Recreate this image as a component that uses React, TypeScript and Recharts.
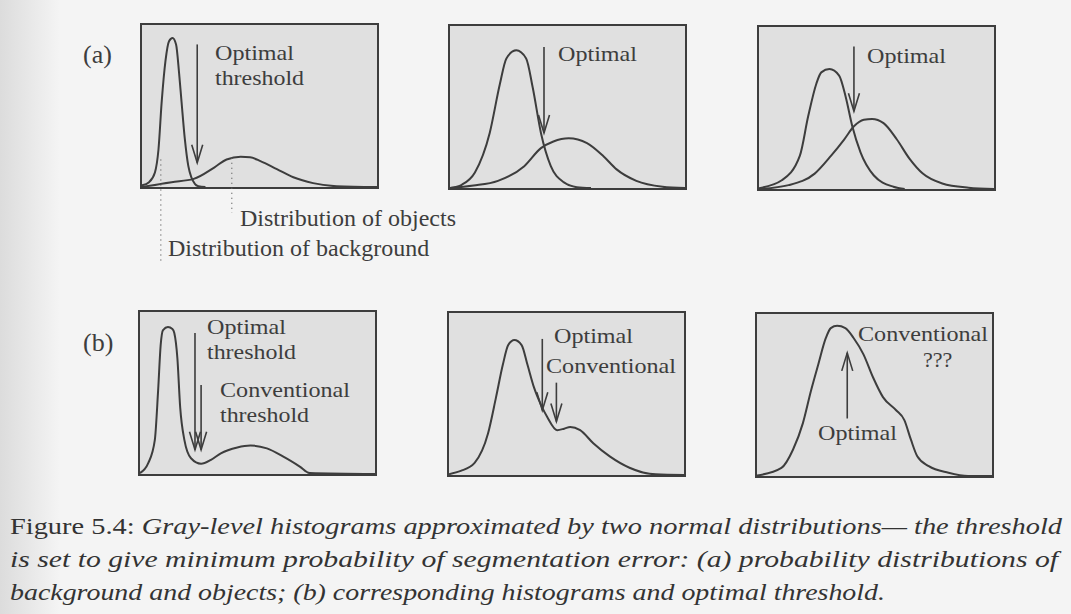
import { LineChart, Line, XAxis, YAxis, ReferenceLine } from 'recharts'

type Pt = { g: number; n: number }
type Arrow = { g: number; from: number; to: number }

// (a) densities of background and objects, gray level 0..100 vs relative height 0..100
const a1Background: Pt[] = [
  { g: 0, n: 1 }, { g: 3, n: 3 }, { g: 5.5, n: 9 }, { g: 7, n: 23 }, { g: 8.4, n: 53 },
  { g: 10, n: 78 }, { g: 11.5, n: 90 }, { g: 13, n: 92 }, { g: 14.5, n: 88 }, { g: 15.8, n: 70 },
  { g: 16.8, n: 53 }, { g: 18.2, n: 30 }, { g: 19.7, n: 13 }, { g: 21, n: 6 }, { g: 22.5, n: 2 },
  { g: 24, n: 0.5 }, { g: 27, n: 0 },
]
const a1Objects: Pt[] = [
  { g: 0, n: 0 }, { g: 12.6, n: 3 }, { g: 22, n: 5 }, { g: 30.7, n: 12 }, { g: 36, n: 17 },
  { g: 42, n: 18.6 }, { g: 46, n: 18.3 }, { g: 50.4, n: 16 }, { g: 57.4, n: 11 }, { g: 64.4, n: 6 },
  { g: 72.8, n: 2.4 }, { g: 82.8, n: 0.5 }, { g: 100, n: 0 },
]
const a2Background: Pt[] = [
  { g: 0, n: 0 }, { g: 5, n: 2 }, { g: 10.6, n: 9.6 }, { g: 16.9, n: 34 }, { g: 21.2, n: 64 },
  { g: 24, n: 80 }, { g: 28.2, n: 85 }, { g: 32.4, n: 80 }, { g: 35.2, n: 62 }, { g: 38.7, n: 34 },
  { g: 42.9, n: 13.5 }, { g: 48.5, n: 3.5 }, { g: 54, n: 0.5 }, { g: 60, n: 0 },
]
const a2Objects: Pt[] = [
  { g: 0, n: 0 }, { g: 10, n: 1.5 }, { g: 20.4, n: 4.4 }, { g: 31.6, n: 13.5 }, { g: 38.7, n: 24.6 },
  { g: 44, n: 28.7 }, { g: 50.5, n: 30.7 }, { g: 58.3, n: 27.7 }, { g: 65.3, n: 19.6 }, { g: 70.9, n: 11.5 },
  { g: 79.3, n: 4.4 }, { g: 90.5, n: 0.8 }, { g: 100, n: 0 },
]
const a3Background: Pt[] = [
  { g: 0, n: 0.5 }, { g: 9.7, n: 5.4 }, { g: 17.4, n: 20.6 }, { g: 20.9, n: 44.7 }, { g: 24.4, n: 65 },
  { g: 26.5, n: 72 }, { g: 30, n: 74 }, { g: 34.1, n: 70 }, { g: 36.9, n: 56.8 }, { g: 39.7, n: 38.7 },
  { g: 43.2, n: 22.6 }, { g: 48.8, n: 8.5 }, { g: 57.2, n: 1.4 }, { g: 62, n: 0 },
]
const a3Objects: Pt[] = [
  { g: 0, n: 0 }, { g: 12.6, n: 2.4 }, { g: 23.7, n: 9.5 }, { g: 30.7, n: 20.6 }, { g: 36.3, n: 30.7 },
  { g: 40.4, n: 38.7 }, { g: 44.6, n: 42.7 }, { g: 48.1, n: 43.2 }, { g: 53, n: 40.7 }, { g: 58.6, n: 30.7 },
  { g: 64.1, n: 18.6 }, { g: 69.7, n: 9.5 }, { g: 78, n: 3.4 }, { g: 89.2, n: 0.8 }, { g: 100, n: 0 },
]

// (b) the histograms those densities produce
const b1Histogram: Pt[] = [
  { g: 0, n: 0.6 }, { g: 3.5, n: 6.7 }, { g: 6.3, n: 20.9 }, { g: 7.7, n: 51.3 }, { g: 8.8, n: 79.7 },
  { g: 9.8, n: 88.8 }, { g: 11.9, n: 90.7 }, { g: 13.8, n: 89.5 }, { g: 14.6, n: 87 }, { g: 15.9, n: 71.6 },
  { g: 17.1, n: 41.1 }, { g: 18.9, n: 20.9 }, { g: 21.7, n: 9.7 }, { g: 26, n: 6.3 }, { g: 30.2, n: 8.7 },
  { g: 34.4, n: 12.8 }, { g: 41.4, n: 16.4 }, { g: 47, n: 17.6 }, { g: 54, n: 15.8 }, { g: 61, n: 10.7 },
  { g: 68, n: 4.6 }, { g: 72.2, n: 0.6 }, { g: 100, n: 0 },
]
const b2Histogram: Pt[] = [
  { g: 0, n: 0.5 }, { g: 5, n: 2.5 }, { g: 10.9, n: 7.5 }, { g: 16.6, n: 25.6 }, { g: 20, n: 47.9 },
  { g: 22.9, n: 68 }, { g: 25.2, n: 80.2 }, { g: 27.8, n: 83.3 }, { g: 30.9, n: 80.2 }, { g: 33.4, n: 68 },
  { g: 36.2, n: 53.9 }, { g: 39, n: 43.8 }, { g: 41.8, n: 35.8 }, { g: 46, n: 27.7 }, { g: 49, n: 28.6 },
  { g: 51.6, n: 29.7 }, { g: 55.8, n: 27.7 }, { g: 61.4, n: 19.6 }, { g: 68.4, n: 11.5 }, { g: 76.8, n: 4.5 },
  { g: 88, n: 0.4 }, { g: 100, n: 0 },
]
const b3Histogram: Pt[] = [
  { g: 0, n: 0.3 }, { g: 10.4, n: 5 }, { g: 15.3, n: 16.2 }, { g: 19.5, n: 32.5 }, { g: 23, n: 52.8 },
  { g: 26.1, n: 69 }, { g: 29.3, n: 85.2 }, { g: 31.4, n: 91.3 }, { g: 34.1, n: 92.7 }, { g: 37.6, n: 91.3 },
  { g: 41.1, n: 85.2 }, { g: 45.3, n: 75.1 }, { g: 49.4, n: 60.8 }, { g: 53.6, n: 48.7 }, { g: 59.2, n: 40.6 },
  { g: 62.7, n: 34.5 }, { g: 65.5, n: 22.4 }, { g: 68.2, n: 12.2 }, { g: 73.1, n: 6.1 }, { g: 81.5, n: 2 },
  { g: 89.8, n: 0 }, { g: 100, n: 0 },
]

// threshold arrows: gray level, arrow tail height, arrow tip height
const a1Arrows: Arrow[] = [{ g: 23.5, from: 88, to: 15 }]
const a2Arrows: Arrow[] = [{ g: 40, from: 87, to: 34 }]
const a3Arrows: Arrow[] = [{ g: 40.4, from: 88, to: 48 }]
const b1Arrows: Arrow[] = [{ g: 23.4, from: 87, to: 15 }, { g: 26, from: 55, to: 15 }]
const b2Arrows: Arrow[] = [{ g: 39.7, from: 84, to: 40 }, { g: 45.7, from: 57, to: 33 }]
const b3Arrows: Arrow[] = [{ g: 38.4, from: 35.5, to: 76 }]

// dotted leaders under the first panel: gray level and the height they start from
const a1Leaders = [
  { g: 8, n: 17, endY: 262 },
  { g: 38.2, n: 18, endY: 213 },
]

const INK = '#3d3d3d'
const BOX_FILL = '#e0e0e0'
const SERIF = '"Liberation Serif", "Times New Roman", serif'
const W = 239
const H = 166
const BORDER = 2

const panels = [
  { left: 140, top: 23, series: [a1Background, a1Objects], arrows: a1Arrows },
  { left: 448, top: 24, series: [a2Background, a2Objects], arrows: a2Arrows },
  { left: 757, top: 25, series: [a3Background, a3Objects], arrows: a3Arrows },
  { left: 138, top: 310, series: [b1Histogram], arrows: b1Arrows },
  { left: 447, top: 311, series: [b2Histogram], arrows: b2Arrows },
  { left: 755, top: 312, series: [b3Histogram], arrows: b3Arrows },
]

// label widths, so the slightly smaller font still spans the same run
const WIDTH: Record<string, number> = { Optimal: 79, threshold: 89, Conventional: 130 }

const ArrowShape = (p: any) => {
  const { x1, y1, x2, y2 } = p
  const dx = x2 - x1
  const dy = y2 - y1
  const len = Math.hypot(dx, dy) || 1
  const ux = dx / len
  const uy = dy / len
  const hl = 18
  const hw = 5.5
  const bx = x2 - ux * hl
  const by = y2 - uy * hl
  return (
    <g stroke={INK} strokeWidth={1.6} fill="none">
      <line x1={x1} y1={y1} x2={x2} y2={y2} />
      <polyline points={`${bx - uy * hw},${by + ux * hw} ${x2},${y2} ${bx + uy * hw},${by - ux * hw}`} />
    </g>
  )
}

function Panel({ left, top, series, arrows }: { left: number; top: number; series: Pt[][]; arrows: Arrow[] }) {
  return (
    <div
      style={{
        position: 'absolute', left, top, width: W, height: H, boxSizing: 'border-box',
        background: BOX_FILL, border: `${BORDER}px solid ${INK}`,
      }}
    >
      <LineChart width={W - 2 * BORDER} height={H - 2 * BORDER} margin={{ top: 0, right: 0, bottom: 0, left: 0 }}>
        <XAxis type="number" dataKey="g" domain={[0, 100]} hide />
        <YAxis type="number" domain={[0, 100]} hide />
        {series.map((s, i) => (
          <Line
            key={i}
            data={s}
            dataKey="n"
            type="monotone"
            stroke={INK}
            strokeWidth={2}
            dot={false}
            isAnimationActive={false}
          />
        ))}
        {arrows.map((a, i) => (
          <ReferenceLine
            key={i}
            segment={[{ x: a.g, y: a.from }, { x: a.g, y: a.to }]}
            shape={ArrowShape}
            ifOverflow="visible"
          />
        ))}
      </LineChart>
    </div>
  )
}

// pixel position of a data point inside a panel box
const px = (left: number, g: number) => left + BORDER + (g / 100) * (W - 2 * BORDER)
const py = (top: number, n: number) => top + BORDER + (1 - n / 100) * (H - 2 * BORDER)

function Word({ x, y, s }: { x: number; y: number; s: string }) {
  const w = WIDTH[s]
  return w ? (
    <text x={x} y={y} textLength={w} lengthAdjust="spacingAndGlyphs">{s}</text>
  ) : (
    <text x={x} y={y}>{s}</text>
  )
}

export default function App() {
  const a1 = panels[0]
  return (
    <div style={{ position: 'absolute', left: 0, top: 0, width: 1071, height: 614, background: '#f4f4f4', overflow: 'hidden' }}>
      <div
        style={{
          position: 'absolute', left: 0, top: 0, width: 60, height: 614,
          background: 'linear-gradient(to right, #dcdcdc, rgba(244,244,244,0))',
        }}
      />
      {panels.map((p, i) => (
        <Panel key={i} {...p} />
      ))}
      <svg width={1071} height={614} style={{ position: 'absolute', left: 0, top: 0, pointerEvents: 'none' }}>
        {a1Leaders.map((l, i) => (
          <line
            key={i}
            x1={px(a1.left, l.g)}
            y1={py(a1.top, l.n)}
            x2={px(a1.left, l.g)}
            y2={l.endY}
            stroke="#666"
            strokeWidth={1.3}
            strokeDasharray="1 4"
          />
        ))}
        <g fill={INK} fontFamily={SERIF} fontSize={26}>
          <text x={83} y={63}>(a)</text>
          <text x={83} y={351}>(b)</text>
        </g>
        <g fill={INK} fontFamily={SERIF} fontSize={24}>
          <text x={240} y={226}>Distribution of objects</text>
          <text x={168} y={256}>Distribution of background</text>
        </g>
        <g fill={INK} fontFamily={SERIF} fontSize={22}>
          <Word x={215} y={60} s="Optimal" />
          <Word x={215} y={84.5} s="threshold" />
          <Word x={558} y={61} s="Optimal" />
          <Word x={867} y={63} s="Optimal" />

          <Word x={207} y={334} s="Optimal" />
          <Word x={207} y={358.5} s="threshold" />
          <Word x={220} y={397} s="Conventional" />
          <Word x={220} y={421.5} s="threshold" />
          <Word x={554} y={343} s="Optimal" />
          <Word x={546} y={373} s="Conventional" />
          <Word x={858} y={341} s="Conventional" />
          <Word x={923} y={367} s="???" />
          <Word x={818} y={440} s="Optimal" />
        </g>
        <g fill="#333" fontFamily={SERIF} fontSize={24}>
          <text x={10} y={534} textLength={1052} lengthAdjust="spacingAndGlyphs">
            <tspan>Figure 5.4: </tspan>
            <tspan fontStyle="italic">Gray-level histograms approximated by two normal distributions— the threshold</tspan>
          </text>
          <text x={10} y={567} textLength={1048} lengthAdjust="spacingAndGlyphs" fontStyle="italic">
            is set to give minimum probability of segmentation error: (a) probability distributions of
          </text>
          <text x={10} y={600} textLength={875} lengthAdjust="spacingAndGlyphs" fontStyle="italic">
            background and objects; (b) corresponding histograms and optimal threshold.
          </text>
        </g>
      </svg>
    </div>
  )
}
